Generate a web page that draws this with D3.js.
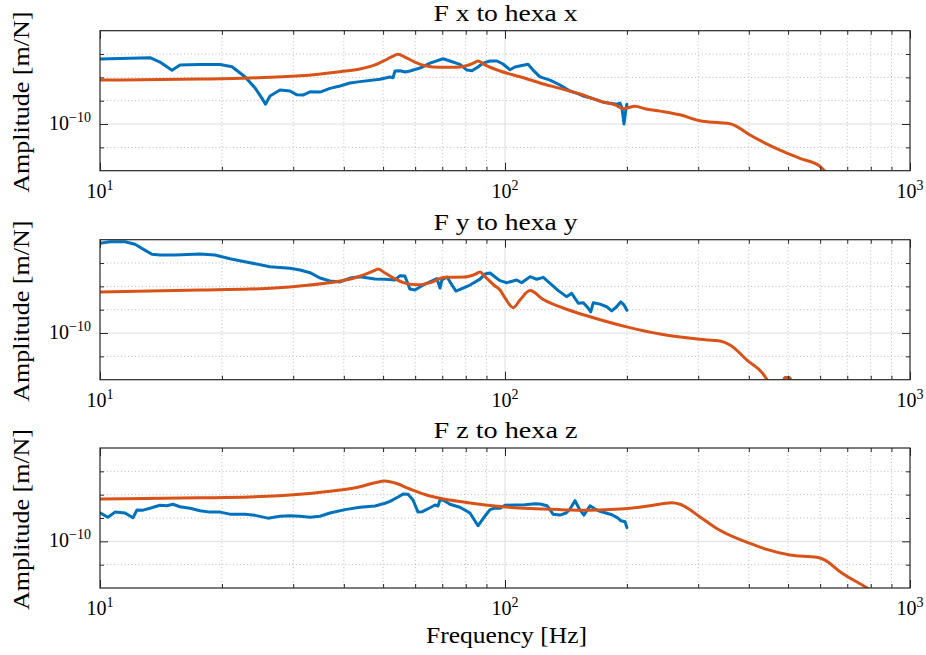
<!DOCTYPE html>
<html><head><meta charset="utf-8">
<script src="https://cdn.jsdelivr.net/npm/d3@7"></script>
<style>
body{margin:0;background:#fff}
svg{display:block}
text{font-family:"Liberation Serif","Times New Roman",serif;fill:#000}
</style>
</head><body>
<svg id="chart" width="926" height="655"></svg>
<script>
// ---------- data (amplitudes in units of 1e-10 m/N) ----------
const titles = ["F x to hexa x", "F y to hexa y", "F z to hexa z"];
const xLabel = "Frequency [Hz]";
const yLabel = "Amplitude [m/N]";
const UNIT = 1e-10;

const xMajorTicks = [10, 100, 1000];
const xMinorTicks = [20, 30, 40, 50, 60, 70, 80, 90, 200, 300, 400, 500, 600, 700, 800, 900];
const yMajorTicks = [1e-10];
const yMinorTicks = [6.31e-11, 1.585e-10, 2.512e-10, 3.981e-10];
const yDomain = [3.981e-11, 6.31e-10];

// F x -> hexa x : measured
const fxMeasF = [10, 13.29, 14.06, 15.06, 15.76, 17.66, 19.79, 21.18, 22.8, 24.14, 25.26, 25.62, 26.29, 27.83, 29.45, 30.64, 31.7, 33.0, 34.93, 36.96, 39.14, 41.42, 43.85, 49.13, 52.0, 52.9, 53.5, 55.06, 56.6, 58.24, 61.66, 65.3, 70.3, 73.1, 77.4, 80.55, 82.88, 85.77, 88.26, 91.85, 95.5, 98.86, 102.9, 105.8, 110.1, 114, 117.3, 122, 129.2, 136.7, 144.7, 151.4, 155.8, 162.2, 168.7, 174.6, 181.6, 189, 192.3, 194.5, 196.7, 199, 200];
const fxMeasA = [3.61, 3.70, 3.40, 2.89, 3.21, 3.24, 3.24, 3.10, 2.54, 2.04, 1.61, 1.48, 1.74, 1.96, 1.92, 1.78, 1.77, 1.89, 1.88, 2.02, 2.12, 2.25, 2.31, 2.42, 2.53, 2.49, 2.85, 2.86, 2.79, 2.85, 3.02, 3.33, 3.63, 3.47, 3.25, 2.90, 2.86, 3.08, 3.33, 3.47, 3.47, 3.27, 2.92, 3.08, 3.18, 3.25, 2.90, 2.54, 2.38, 2.16, 1.92, 1.82, 1.74, 1.68, 1.61, 1.54, 1.51, 1.48, 1.51, 1.37, 1.0, 1.37, 1.48];
// F x -> hexa x : model
const fxModF = [10, 17.66, 23.45, 31.18, 39.14, 43.85, 47.75, 50.55, 52.6, 54.45, 56.6, 59.9, 63.45, 69.1, 75.25, 79.64, 84.3, 85.77, 89.27, 97.2, 108.9, 122, 136.7, 153.2, 171.6, 186.9, 196.7, 201.3, 209.4, 221.7, 241.5, 270.4, 303, 339.6, 359.4, 371.7, 402.7, 438.5, 477.5, 534.6, 599.5, 616.6, 634.6];
const fxModA = [2.38, 2.43, 2.48, 2.59, 2.81, 2.96, 3.21, 3.52, 3.78, 3.96, 3.75, 3.40, 3.16, 3.06, 3.06, 3.14, 3.38, 3.47, 3.21, 2.85, 2.54, 2.25, 2.02, 1.81, 1.57, 1.46, 1.35, 1.38, 1.42, 1.35, 1.29, 1.20, 1.067, 1.026, 1.006, 0.961, 0.805, 0.687, 0.598, 0.508, 0.434, 0.395, 0.38];

// F y -> hexa y : measured
const fyMeasF = [10, 10.59, 11.53, 12.2, 12.9, 13.44, 14.06, 15.31, 17.66, 19.23, 20.94, 23.45, 26.29, 29.45, 31.18, 33.0, 34.93, 36.96, 39.14, 41.42, 43.85, 47.75, 50.55, 53.5, 55.06, 56.6, 58.24, 59.9, 63.45, 67.93, 69.1, 69.87, 71.9, 73.96, 75.68, 81.94, 86.75, 89.27, 91.85, 94.5, 97.2, 100.97, 106.9, 109.9, 115.3, 119.7, 124.3, 129.2, 135.4, 141.9, 146.1, 151.7, 156.1, 160.6, 162.8, 165.2, 171.6, 178.3, 183.4, 188.7, 193, 196.7, 200];
const fyMeasA = [5.87, 6.06, 6.06, 5.76, 5.14, 4.73, 4.66, 4.66, 4.75, 4.66, 4.33, 4.01, 3.70, 3.59, 3.47, 3.29, 2.96, 2.79, 2.74, 2.96, 3.04, 2.90, 2.89, 2.85, 3.10, 3.08, 2.38, 2.34, 2.63, 2.92, 2.43, 2.85, 3.02, 2.58, 2.29, 2.58, 2.90, 3.21, 3.27, 3.02, 2.81, 2.70, 2.85, 2.70, 3.04, 2.89, 3.00, 2.67, 2.31, 2.05, 2.19, 1.80, 1.82, 1.63, 1.52, 1.82, 1.77, 1.68, 1.55, 1.68, 1.85, 1.74, 1.57];
// F y -> hexa y : model
const fyModF = [10, 17.66, 23.45, 31.18, 39.14, 42.62, 45.1, 47.75, 48.58, 50.55, 53.5, 56.6, 60.98, 65.3, 71.1, 79.64, 84.3, 86.75, 89.27, 94.5, 97.2, 100, 104.8, 108.9, 115.3, 124.3, 141.9, 162.2, 199.7, 241.5, 303, 339.6, 359.4, 395.4, 442.8, 456, 480, 491, 503, 515];
const fyModA = [2.25, 2.34, 2.38, 2.53, 2.79, 2.98, 3.18, 3.45, 3.54, 3.27, 2.92, 2.68, 2.59, 2.70, 3.00, 3.02, 3.18, 3.33, 3.04, 2.53, 2.34, 2.0, 1.65, 1.92, 2.31, 1.94, 1.60, 1.38, 1.13, 0.98, 0.883, 0.854, 0.789, 0.587, 0.401, 0.325, 0.34, 0.415, 0.415, 0.34];

// F z -> hexa z : measured
const fzMeasF = [10, 10.46, 10.89, 11.53, 12.06, 12.34, 12.77, 13.29, 14.06, 14.63, 15.14, 15.76, 16.68, 17.66, 18.69, 19.79, 20.94, 22.8, 24.14, 25.98, 27.83, 29.45, 31.18, 33.0, 34.93, 36.96, 40.27, 43.85, 47.75, 50.55, 52.0, 54.45, 55.98, 57.62, 59.27, 60.98, 62.36, 65.3, 67.17, 68.32, 69.1, 70.3, 73.1, 77.4, 81.94, 85.77, 89.27, 91.85, 94.5, 97.2, 100, 105.8, 112, 118.6, 122, 127, 131.4, 136.7, 141.5, 144.7, 148.9, 153.2, 156.7, 162.2, 166.8, 171.6, 176.6, 183.7, 190.1, 193.4, 197.9, 200];
const fzMeasA = [1.76, 1.61, 1.78, 1.75, 1.59, 1.86, 1.85, 1.92, 2.04, 2.02, 2.08, 1.98, 1.92, 1.83, 1.78, 1.78, 1.71, 1.71, 1.67, 1.58, 1.64, 1.66, 1.64, 1.61, 1.64, 1.75, 1.87, 1.96, 2.01, 2.12, 2.20, 2.40, 2.54, 2.53, 2.26, 1.78, 1.79, 1.94, 2.05, 2.01, 2.26, 2.26, 2.08, 1.96, 1.75, 1.36, 1.65, 1.87, 1.93, 1.92, 2.04, 2.05, 2.06, 2.10, 2.09, 2.02, 1.71, 1.68, 1.75, 1.89, 2.23, 1.85, 1.68, 2.02, 1.89, 1.81, 1.76, 1.69, 1.58, 1.50, 1.47, 1.31];
// F z -> hexa z : model
const fzModF = [10, 17.66, 23.45, 31.18, 39.14, 43.85, 47.75, 50.55, 53.5, 58.24, 65.3, 73.1, 81.94, 97.2, 115.3, 136.7, 162.2, 192.3, 228, 258, 270.4, 303, 333.2, 402.7, 442.8, 505.5, 588.6, 616.6, 671.6, 781.7, 805];
const fzModA = [2.31, 2.36, 2.40, 2.53, 2.75, 2.94, 3.18, 3.29, 3.16, 2.81, 2.45, 2.26, 2.13, 1.99, 1.91, 1.87, 1.85, 1.89, 2.02, 2.14, 2.08, 1.62, 1.29, 0.96, 0.854, 0.763, 0.729, 0.691, 0.549, 0.400, 0.375];

// ---------- layout ----------
const W = 926, H = 655;
const left = 100, plotW = 810, plotH = 140;
const tops = [30.7, 239.7, 448];
const BLUE = "#0072BD", RED = "#D95319", AXC = "#262626";

const panels = [
  {title: titles[0], meas: d3.zip(fxMeasF, fxMeasA), model: d3.zip(fxModF, fxModA)},
  {title: titles[1], meas: d3.zip(fyMeasF, fyMeasA), model: d3.zip(fyModF, fyModA)},
  {title: titles[2], meas: d3.zip(fzMeasF, fzMeasA), model: d3.zip(fzModF, fzModA)}
];

const svg = d3.select("#chart");
svg.append("rect").attr("width", W).attr("height", H).attr("fill", "#fff");

const x = d3.scaleLog().domain([10, 1000]).range([0, plotW]);
const y = d3.scaleLog().domain(yDomain).range([plotH, 0]);

const lineLin = d3.line().x(d => x(d[0])).y(d => y(d[1] * UNIT));
const lineSmooth = d3.line().x(d => x(d[0])).y(d => y(d[1] * UNIT)).curve(d3.curveMonotoneX);

function styleAxis(sel) {
  sel.select(".domain").remove();
  sel.selectAll(".tick line").attr("stroke", AXC).attr("stroke-width", 1);
  sel.selectAll(".tick text").remove();
}

panels.forEach((p, i) => {
  const g = svg.append("g").attr("transform", `translate(${left},${tops[i]})`);
  const cid = "clip" + i;
  g.append("clipPath").attr("id", cid).append("rect").attr("width", plotW).attr("height", plotH);

  // grid: minor (dotted)
  const grid = g.append("g");
  grid.selectAll("line.xm").data(xMinorTicks).join("line").attr("class", "xm")
    .attr("x1", d => x(d)).attr("x2", d => x(d)).attr("y1", 0).attr("y2", plotH)
    .attr("stroke", "#bdbdbd").attr("stroke-width", 1).attr("stroke-dasharray", "1,2.5");
  grid.selectAll("line.ym").data(yMinorTicks).join("line").attr("class", "ym")
    .attr("x1", 0).attr("x2", plotW).attr("y1", d => y(d)).attr("y2", d => y(d))
    .attr("stroke", "#bdbdbd").attr("stroke-width", 1).attr("stroke-dasharray", "1,2.5");
  // grid: major (solid)
  grid.selectAll("line.xM").data(xMajorTicks.filter(d => d > 10 && d < 1000)).join("line").attr("class", "xM")
    .attr("x1", d => x(d)).attr("x2", d => x(d)).attr("y1", 0).attr("y2", plotH)
    .attr("stroke", "#dedede").attr("stroke-width", 1);
  grid.selectAll("line.yM").data(yMajorTicks).join("line").attr("class", "yM")
    .attr("x1", 0).attr("x2", plotW).attr("y1", d => y(d)).attr("y2", d => y(d))
    .attr("stroke", "#dedede").attr("stroke-width", 1);

  // data
  const lines = g.append("g").attr("clip-path", `url(#${cid})`);
  lines.append("path").datum(p.meas).attr("d", lineLin)
    .attr("fill", "none").attr("stroke", BLUE).attr("stroke-width", 3)
    .attr("stroke-linejoin", "round").attr("stroke-linecap", "round");
  lines.append("path").datum(p.model).attr("d", lineSmooth)
    .attr("fill", "none").attr("stroke", RED).attr("stroke-width", 3)
    .attr("stroke-linejoin", "round").attr("stroke-linecap", "butt");

  // ticks (inside) on all four sides
  g.append("g").attr("transform", `translate(0,${plotH})`)
    .call(d3.axisBottom(x).tickValues(xMajorTicks).tickSize(-8).tickFormat("")).call(styleAxis);
  g.append("g").attr("transform", `translate(0,${plotH})`)
    .call(d3.axisBottom(x).tickValues(xMinorTicks).tickSize(-4).tickFormat("")).call(styleAxis);
  g.append("g")
    .call(d3.axisTop(x).tickValues(xMajorTicks).tickSize(-8).tickFormat("")).call(styleAxis);
  g.append("g")
    .call(d3.axisTop(x).tickValues(xMinorTicks).tickSize(-4).tickFormat("")).call(styleAxis);
  g.append("g")
    .call(d3.axisLeft(y).tickValues(yMajorTicks).tickSize(-8).tickFormat("")).call(styleAxis);
  g.append("g")
    .call(d3.axisLeft(y).tickValues(yMinorTicks).tickSize(-4).tickFormat("")).call(styleAxis);
  g.append("g").attr("transform", `translate(${plotW},0)`)
    .call(d3.axisRight(y).tickValues(yMajorTicks).tickSize(-8).tickFormat("")).call(styleAxis);
  g.append("g").attr("transform", `translate(${plotW},0)`)
    .call(d3.axisRight(y).tickValues(yMinorTicks).tickSize(-4).tickFormat("")).call(styleAxis);

  // box
  g.append("rect").attr("width", plotW).attr("height", plotH)
    .attr("fill", "none").attr("stroke", AXC).attr("stroke-width", 1.2);

  // x tick labels
  g.selectAll("text.xt").data(xMajorTicks).join("text").attr("class", "xt")
    .attr("x", d => x(d)).attr("y", plotH + 27).attr("text-anchor", "middle")
    .attr("font-size", 20)
    .each(function(d) {
      const t = d3.select(this);
      t.append("tspan").text("10");
      t.append("tspan").attr("dy", -8).attr("font-size", 14).text(String(Math.round(Math.log10(d))));
    });

  // y tick labels
  g.selectAll("text.yt").data(yMajorTicks).join("text").attr("class", "yt")
    .attr("x", -9).attr("y", d => y(d) + 6).attr("text-anchor", "end")
    .attr("font-size", 20)
    .each(function(d) {
      const t = d3.select(this);
      t.append("tspan").text("10");
      t.append("tspan").attr("dy", -8.3).attr("font-size", 14)
        .text("\u2212" + String(Math.abs(Math.round(Math.log10(d)))));
    });

  // title
  g.append("text").attr("x", plotW / 2 + 0.5).attr("y", -10)
    .attr("text-anchor", "middle").attr("font-size", 24)
    .attr("textLength", 144).attr("lengthAdjust", "spacingAndGlyphs")
    .text(p.title);

  // y label
  g.append("text")
    .attr("transform", `translate(${28.5 - left},${plotH / 2 + 1.5}) rotate(-90)`)
    .attr("text-anchor", "middle").attr("font-size", 24)
    .attr("textLength", 181).attr("lengthAdjust", "spacingAndGlyphs")
    .text(yLabel);

  if (i === panels.length - 1) {
    g.append("text").attr("x", plotW / 2 + 1.5).attr("y", plotH + 55)
      .attr("text-anchor", "middle").attr("font-size", 24)
      .attr("textLength", 161).attr("lengthAdjust", "spacingAndGlyphs")
      .text(xLabel);
  }
});
</script>
</body></html>
